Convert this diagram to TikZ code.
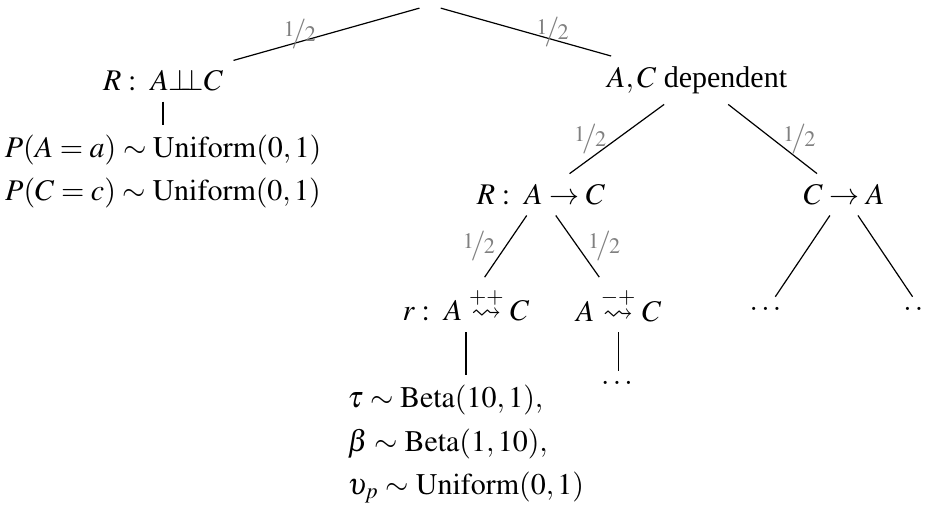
\documentclass[tikz,border=0pt]{standalone}
\usepackage{amsmath,amssymb}
\usepackage{mathptmx}
\usepackage{fontspec}
\setmainfont{Liberation Serif}
\usepackage{nicefrac}
\usetikzlibrary{positioning}

\newcommand{\indepsym}{{\perp\mkern-7mu\perp}}

\begin{document}
\begin{tikzpicture}[
    node distance=0.2cm,
    tnode/.style={align=center},
    stack/.style={align=left, font=\linespread{1.2}\selectfont},
    prob/.style={gray},
    branch/.style={black, line width=0.4pt},
  ]
  \clip (0,0) rectangle (10.84,-5.97);

  % Root and first split
  \node (root) at (5.04,-0.06) {};
  \node[tnode] (indep) at (1.91,-0.94) {$R:\ A \indepsym C$};
  \node[tnode] (dep) at (8.17,-0.94) {$A,C$ dependent};

  % Independent case: priors
  \node[tnode, font=\linespread{1.2}\selectfont, below=0.27cm of indep] (prior) {$P(A=a) \sim \mathrm{Uniform}(0,1)$\\$P(C=c) \sim \mathrm{Uniform}(0,1)$};

  % Dependent case: direction
  \node[tnode] (ac) at (6.34,-2.28) {$R:\ A \rightarrow C$};
  \node[tnode] (ca) at (9.89,-2.28) {$C \rightarrow A$};

  % Sign of the relation
  \node[tnode] (pp) at (5.46,-3.57) {$r:\ A \overset{++}{\rightsquigarrow} C$};
  \node[tnode] (mp) at (7.25,-3.57) {$A \overset{-+}{\rightsquigarrow} C$};
  \node[tnode] (dotsl) at (8.99,-3.62) {$\dots$};
  \node[tnode] (dotsr) at (10.79,-3.62) {$\dots$};

  % Parameters
  \node[stack, below=0.5cm of pp] (params) {$\tau \sim \mathrm{Beta}(10,1),$\\$\beta \sim \mathrm{Beta}(1,10),$\\$\upsilon_p \sim \mathrm{Uniform}(0,1)$};
  \node[tnode, below=0.45cm of mp] (dotsb) {$\dots$};

  % Branches with probabilities
  \draw[branch] (root) -- node[prob, left] {$\nicefrac{1}{2}$} (indep);
  \draw[branch] (root) -- node[prob, right] {$\nicefrac{1}{2}$} (dep);
  \draw[branch] (dep) -- node[prob, left] {$\nicefrac{1}{2}$} (ac);
  \draw[branch] (dep) -- node[prob, right] {$\nicefrac{1}{2}$} (ca);
  \draw[branch] (ac) -- node[prob, left] {$\nicefrac{1}{2}$} (pp);
  \draw[branch] (ac) -- node[prob, right] {$\nicefrac{1}{2}$} (mp);
  \draw[branch] (ca) -- (dotsl);
  \draw[branch] (ca) -- (dotsr);

  % Single children
  \draw[branch] (indep) -- (prior);
  \draw[branch] (pp) -- (params);
  \draw[branch] (mp) -- (dotsb);

\end{tikzpicture}
\end{document}
